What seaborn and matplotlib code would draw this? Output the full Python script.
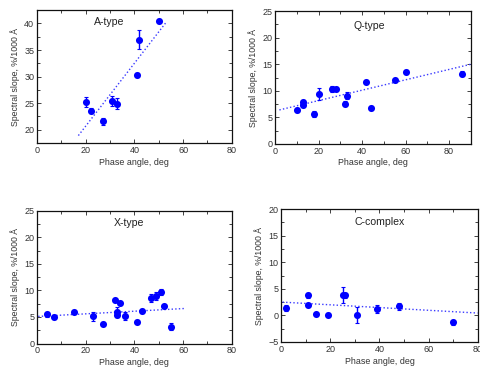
import numpy as np
import pandas as pd
import matplotlib
matplotlib.use("Agg")
import matplotlib.pyplot as plt
import seaborn as sns
from matplotlib.ticker import MultipleLocator

# A-type
a_phase = [20, 22, 27, 31, 33, 41, 42, 50]
a_slope = [25.2, 23.6, 21.6, 25.4, 24.9, 30.3, 36.9, 40.5]
a_err = [1.0, 0.5, 0.7, 0.9, 1.0, 0.4, 1.8, 0.3]
a_fit_x = [17, 53]
a_fit_y = [18.9, 40.2]

# Q-type
q_phase = [10, 13, 13, 18, 20, 26, 28, 32, 33, 42, 44, 55, 60, 86]
q_slope = [6.4, 7.8, 7.3, 5.6, 9.4, 10.3, 10.3, 7.6, 9.1, 11.7, 6.8, 12.0, 13.6, 13.2]
q_err = [0.4, 0.4, 0.4, 0.6, 1.1, 0.6, 0.4, 0.4, 0.7, 0.3, 0.4, 0.3, 0.3, 0.5]
q_fit_x = [2, 90]
q_fit_y = [6.4, 15.0]

# X-type
x_phase = [4, 7, 15, 23, 27, 32, 33, 33, 34, 36, 41, 43, 47, 49, 51, 52, 55]
x_slope = [5.5, 5.0, 6.0, 5.1, 3.7, 8.1, 5.9, 5.4, 7.6, 5.2, 4.1, 6.1, 8.6, 8.9, 9.7, 7.0, 3.2]
x_err = [0.5, 0.3, 0.3, 0.8, 0.3, 0.3, 1.0, 0.5, 0.3, 0.8, 0.3, 0.4, 0.8, 0.8, 0.6, 0.3, 0.6]
x_fit_x = [0.5, 61]
x_fit_y = [5.1, 6.6]

# C-complex
c_phase = [2, 11, 11, 14, 19, 25, 26, 31, 39, 48, 70]
c_slope = [1.4, 3.8, 1.9, 0.2, 0.1, 3.8, 3.8, 0.0, 1.2, 1.7, -1.3]
c_err = [0.5, 0.5, 0.3, 0.3, 0.3, 1.5, 0.5, 1.5, 0.8, 0.6, 0.5]
c_fit_x = [0.5, 80]
c_fit_y = [2.5, 0.45]

BLUE = "#0000ff"


def draw_panel(fig, rect, name, phase, slope, err, fit_x, fit_y,
               xlim, ylim, yticks, title_pos):
    ax = fig.add_axes(rect)
    df = pd.DataFrame({"phase": phase, "slope": slope})
    fit = pd.DataFrame({"phase": fit_x, "slope": fit_y})

    sns.lineplot(data=fit, x="phase", y="slope", ax=ax, color="#3a3aff",
                 linestyle=(0, (1, 1.6)), linewidth=1.0)
    ax.errorbar(phase, slope, yerr=err, fmt="none", ecolor=BLUE,
                elinewidth=1.0, capsize=1.5, capthick=0.8)
    sns.scatterplot(data=df, x="phase", y="slope", ax=ax, color=BLUE,
                    s=26, edgecolor=BLUE, linewidth=0, zorder=3)

    ax.set_xlim(*xlim)
    ax.set_ylim(*ylim)
    ax.xaxis.set_major_locator(MultipleLocator(20))
    ax.xaxis.set_minor_locator(MultipleLocator(10))
    ax.yaxis.set_major_locator(MultipleLocator(yticks))
    ax.yaxis.set_minor_locator(MultipleLocator(yticks / 2))
    ax.tick_params(which="both", direction="in", top=True, right=True,
                   labelsize=6.5, pad=2, colors="#222222", labelcolor="#333333")
    ax.tick_params(which="major", length=3, width=0.6)
    ax.tick_params(which="minor", length=2, width=0.6)
    for sp in ax.spines.values():
        sp.set_linewidth(0.9)
        sp.set_color("#111111")

    ax.set_xlabel("Phase angle, deg", fontsize=6.4, color="#333333", labelpad=2)
    ax.set_ylabel("Spectral slope, %/1000 Å", fontsize=6.3, color="#333333",
                  labelpad=3)
    ax.text(title_pos[0], title_pos[1], name, transform=ax.transAxes,
            ha="center", va="center", fontsize=7.6, color="#222222")
    return ax


def main() -> None:
    sns.set_theme(style="ticks")
    plt.rcParams["font.family"] = ["Liberation Sans", "DejaVu Sans"]

    fig = plt.figure(figsize=(4.8, 3.7), dpi=100)
    fig.patch.set_facecolor("white")

    draw_panel(fig, [0.077, 0.6135, 0.406, 0.359], "A-type",
               a_phase, a_slope, a_err, a_fit_x, a_fit_y,
               (0, 80), (17.5, 42.5), 5, (0.37, 0.91))
    draw_panel(fig, [0.573, 0.611, 0.408, 0.359], "Q-type",
               q_phase, q_slope, q_err, q_fit_x, q_fit_y,
               (0, 90), (0, 25), 5, (0.48, 0.89))
    draw_panel(fig, [0.077, 0.0716, 0.406, 0.359], "X-type",
               x_phase, x_slope, x_err, x_fit_x, x_fit_y,
               (0, 80), (0, 25), 5, (0.47, 0.91))
    draw_panel(fig, [0.586, 0.0757, 0.409, 0.359], "C-complex",
               c_phase, c_slope, c_err, c_fit_x, c_fit_y,
               (0, 80), (-5, 20), 5, (0.5, 0.90))

    fig.savefig("out.png", dpi=100)
    plt.close(fig)


if __name__ == "__main__":
    main()
